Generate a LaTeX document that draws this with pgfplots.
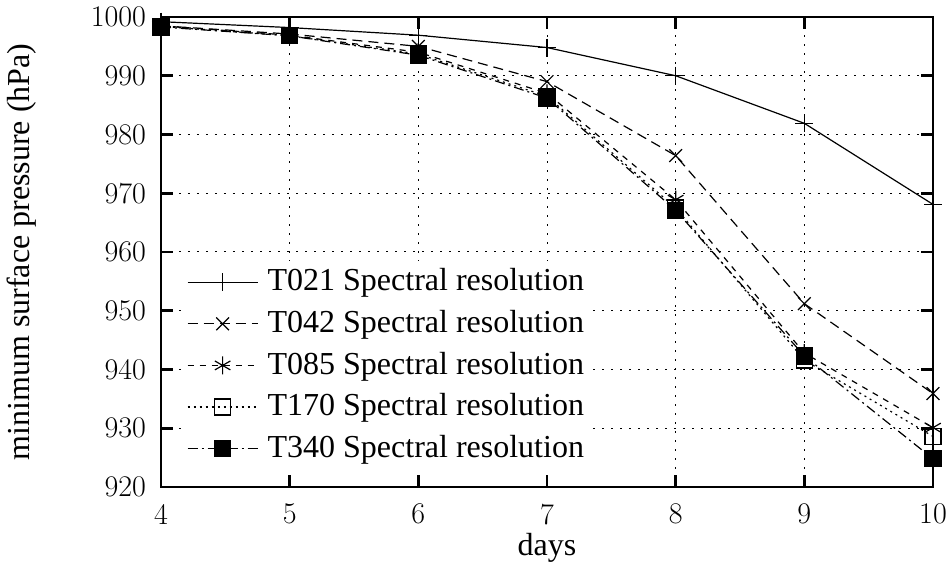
\documentclass[border=0pt]{standalone}
\usepackage{fontspec}
\setmainfont{Liberation Serif}
\newfontfamily\lmr{Latin Modern Roman}
\usepackage{pgfplots}
\pgfplotsset{compat=1.18}
\begin{document}
\fontsize{16}{19}\selectfont
\begin{tikzpicture}
\begin{axis}[
  scale only axis,
  width=386pt, height=235pt,
  xmin=4, xmax=10, ymin=920, ymax=1000,
  xtick={4,5,6,7,8,9,10},
  ytick={920,930,...,1000},
  clip=false,
  tick align=inside,
  major tick length=6pt,
  every tick/.style={black, line width=1.3pt},
  axis line style={line width=1.3pt},
  grid=major,
  major grid style={black, line width=0.5pt, dash pattern=on 0.8pt off 3.7pt},
  /pgf/number format/assume math mode=true,
  /pgf/number format/1000 sep={},
  ticklabel style={font=\lmr\fontsize{15}{18}\selectfont},
  yticklabel style={xshift=-2pt},
  xticklabel style={yshift=-3pt},
  xlabel={days},
  ylabel={minimum surface pressure (hPa)},
  label style={font=\fontsize{16}{19}\selectfont},
  xlabel style={at={(axis description cs:0.5,-0.13)}, anchor=center},
  ylabel style={at={(axis description cs:-0.18,0.5)}, anchor=center},
  legend cell align=left,
  legend style={at={(axis description cs:0.028,0.035)}, anchor=south west, draw=none, fill=white,
    font=\fontsize{16}{19}\selectfont, row sep=3.3pt, inner sep=2pt},
  legend image code/.code={\draw[mark repeat=2,mark phase=2] plot coordinates {(0pt,0pt) (17.5pt,0pt) (35pt,0pt)};\path[draw=none,fill=none] (0pt,0pt) -- (38pt,0pt);},
  every axis plot/.append style={black, line width=0.6pt, mark options={solid, line width=0.6pt}},
]
\addplot[solid, mark=+, mark size=4.5pt] coordinates {
 (4,999.2) (5,998.2) (6,996.9) (7,994.8) (8,990.0) (9,981.9) (10,968.1)};
\addlegendentry{T021 Spectral resolution}
\addplot[dash pattern=on 5pt off 3pt, mark=x, mark size=4.5pt] coordinates {
 (4,998.5) (5,997.1) (6,995.0) (7,989.0) (8,976.4) (9,951.2) (10,935.9)};
\addlegendentry{T042 Spectral resolution}
\addplot[dash pattern=on 3pt off 3pt, mark=asterisk, mark size=4.5pt] coordinates {
 (4,998.5) (5,996.9) (6,994.0) (7,987.0) (8,968.9) (9,942.8) (10,930.1)};
\addlegendentry{T085 Spectral resolution}
\addplot[dash pattern=on 1pt off 2pt, mark=square, mark size=4pt] coordinates {
 (4,998.4) (5,996.8) (6,993.7) (7,986.5) (8,967.5) (9,941.6) (10,928.6)};
\addlegendentry{T170 Spectral resolution}
\addplot[dash pattern=on 5pt off 2pt on 1pt off 2pt, mark=square*, mark size=4pt] coordinates {
 (4,998.3) (5,996.8) (6,993.5) (7,986.2) (8,967.1) (9,942.3) (10,924.8)};
\addlegendentry{T340 Spectral resolution}
\coordinate (bl) at (rel axis cs:0,0);
\coordinate (tr) at (rel axis cs:1,1);
\end{axis}
\path (bl) ++(-80.5pt,-41pt) coordinate (A);
\path (tr) ++(9pt,8.5pt) coordinate (B);
\pgfresetboundingbox
\useasboundingbox (A) rectangle (B);
\end{tikzpicture}
\end{document}
